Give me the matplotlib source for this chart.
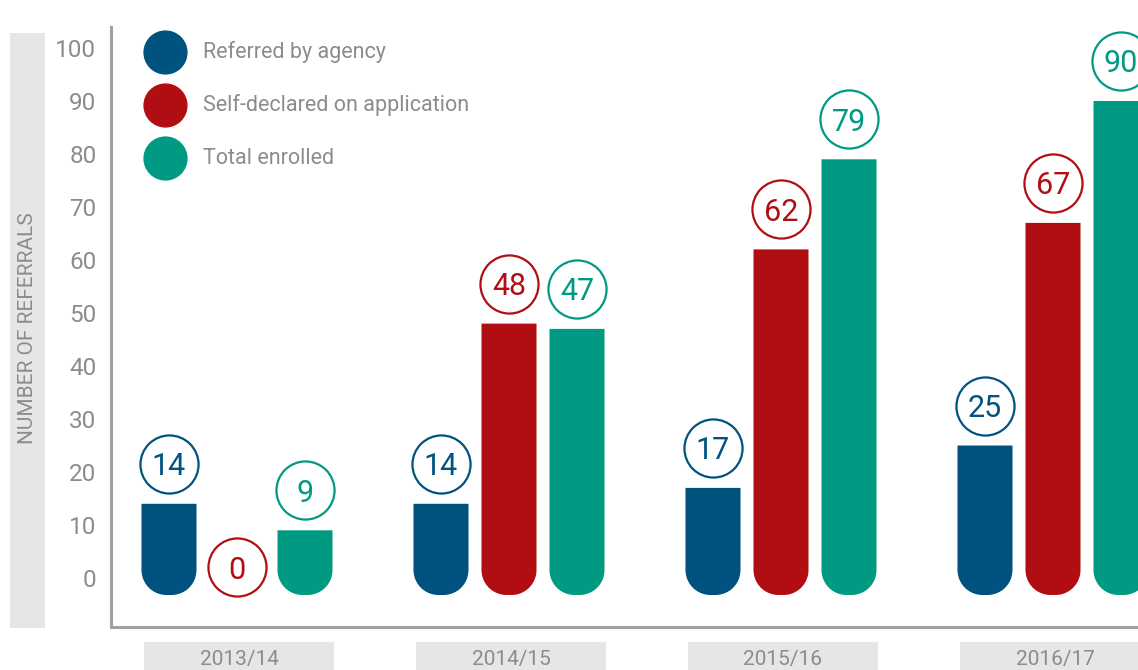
import numpy as np
import matplotlib
matplotlib.use("Agg")
import matplotlib.pyplot as plt
from matplotlib.patches import Polygon, Rectangle

plt.rcParams["font.family"] = ["Roboto", "DejaVu Sans"]

# ---- data ----
years = ["2013/14", "2014/15", "2015/16", "2016/17"]
series = ["Referred by agency", "Self-declared on application", "Total enrolled"]
referred = [14, 14, 17, 25]
self_declared = [0, 48, 62, 67]
enrolled = [9, 47, 79, 90]
colors = ["#00527f", "#b00e13", "#009a82"]
yticks = [0, 10, 20, 30, 40, 50, 60, 70, 80, 90, 100]

TEXT_GRAY = "#8c8c8c"
BOX_GRAY = "#e6e6e6"

W, H = 1138, 670
fig = plt.figure(figsize=(W / 100, H / 100), dpi=100)

# axes box in pixels: left spine at x=111, bottom spine at y=627
ax = fig.add_axes([111 / W, (H - 627) / H, 1 - 111 / W, 627 / H])
px_per_unit_y = 5.3
px_per_unit_x = 272.0
ax.set_ylim(-49 / px_per_unit_y, 578 / px_per_unit_y)
ax.set_xlim((111 - 237) / px_per_unit_x, (W - 237) / px_per_unit_x)

for s in ["top", "right"]:
    ax.spines[s].set_visible(False)
for s in ["left", "bottom"]:
    ax.spines[s].set_color("#a0a0a0")
    ax.spines[s].set_linewidth(2.2)
ax.spines["left"].set_bounds(-49 / px_per_unit_y, 104)

ax.set_yticks(yticks)
ax.set_yticklabels([str(t) for t in yticks])
ax.tick_params(axis="y", length=0, pad=10.5, labelsize=17.5, labelcolor=TEXT_GRAY)
ax.set_xticks([])

bar_w = 55 / px_per_unit_x
step = 68 / px_per_unit_x
bottom = -17 / px_per_unit_y
rx = 25 / px_per_unit_x
ry = 25 / px_per_unit_y


def rounded_bar(xc, top, color):
    x0, x1 = xc - bar_w / 2, xc + bar_w / 2
    t = np.linspace(np.pi, 1.5 * np.pi, 20)
    left_arc = np.column_stack([x0 + rx + rx * np.cos(t), bottom + ry + ry * np.sin(t)])
    t = np.linspace(1.5 * np.pi, 2 * np.pi, 20)
    right_arc = np.column_stack([x1 - rx + rx * np.cos(t), bottom + ry + ry * np.sin(t)])
    pts = np.vstack([[[x0, top]], left_arc, right_arc, [[x1, top]]])
    ax.add_patch(Polygon(pts, closed=True, facecolor=color, edgecolor="none"))


all_values = [referred, self_declared, enrolled]
bx = ax.get_xaxis_transform()
for i, year in enumerate(years):
    for j, vals in enumerate(all_values):
        v = vals[i]
        xc = i + (j - 1) * step
        if v > 0:
            rounded_bar(xc, v, colors[j])
            ly = v + 40 / px_per_unit_y
        else:
            ly = 2
        ax.scatter([xc], [ly], s=1750, facecolor="white", edgecolor=colors[j],
                   linewidth=1.6, zorder=3, clip_on=False)
        ax.text(xc, ly, str(v), ha="center", va="center_baseline", fontsize=22,
                color=colors[j], zorder=4)

    # year label boxes under the axis
    gx = i + 2 / px_per_unit_x
    ax.add_patch(Rectangle((gx - 95 / px_per_unit_x, -15 / 627), 190 / px_per_unit_x, -30 / 627,
                           transform=bx, facecolor=BOX_GRAY, edgecolor="none", clip_on=False))
    ax.text(gx, -32 / 627, year, transform=bx, ha="center", va="center", fontsize=15,
            color=TEXT_GRAY)

# legend
for k, name in enumerate(series):
    ly = 1 - (52 + 53 * k) / 627
    ax.scatter([(165 - 111) / 1027], [ly], s=950, color=colors[k], transform=ax.transAxes,
               clip_on=False, zorder=3)
    ax.text((203 - 111) / 1027, ly, name, transform=ax.transAxes, ha="left", va="center",
            fontsize=15.5, color=TEXT_GRAY)

# y label band
fig.patches.append(Rectangle((10 / W, (H - 628) / H), 35 / W, 595 / H, transform=fig.transFigure,
                             facecolor=BOX_GRAY, edgecolor="none"))
fig.text(28 / W, (H - 328) / H, "NUMBER OF REFERRALS", rotation=90, ha="center", va="center",
         fontsize=15, color=TEXT_GRAY)

fig.savefig("out.png", dpi=100)
